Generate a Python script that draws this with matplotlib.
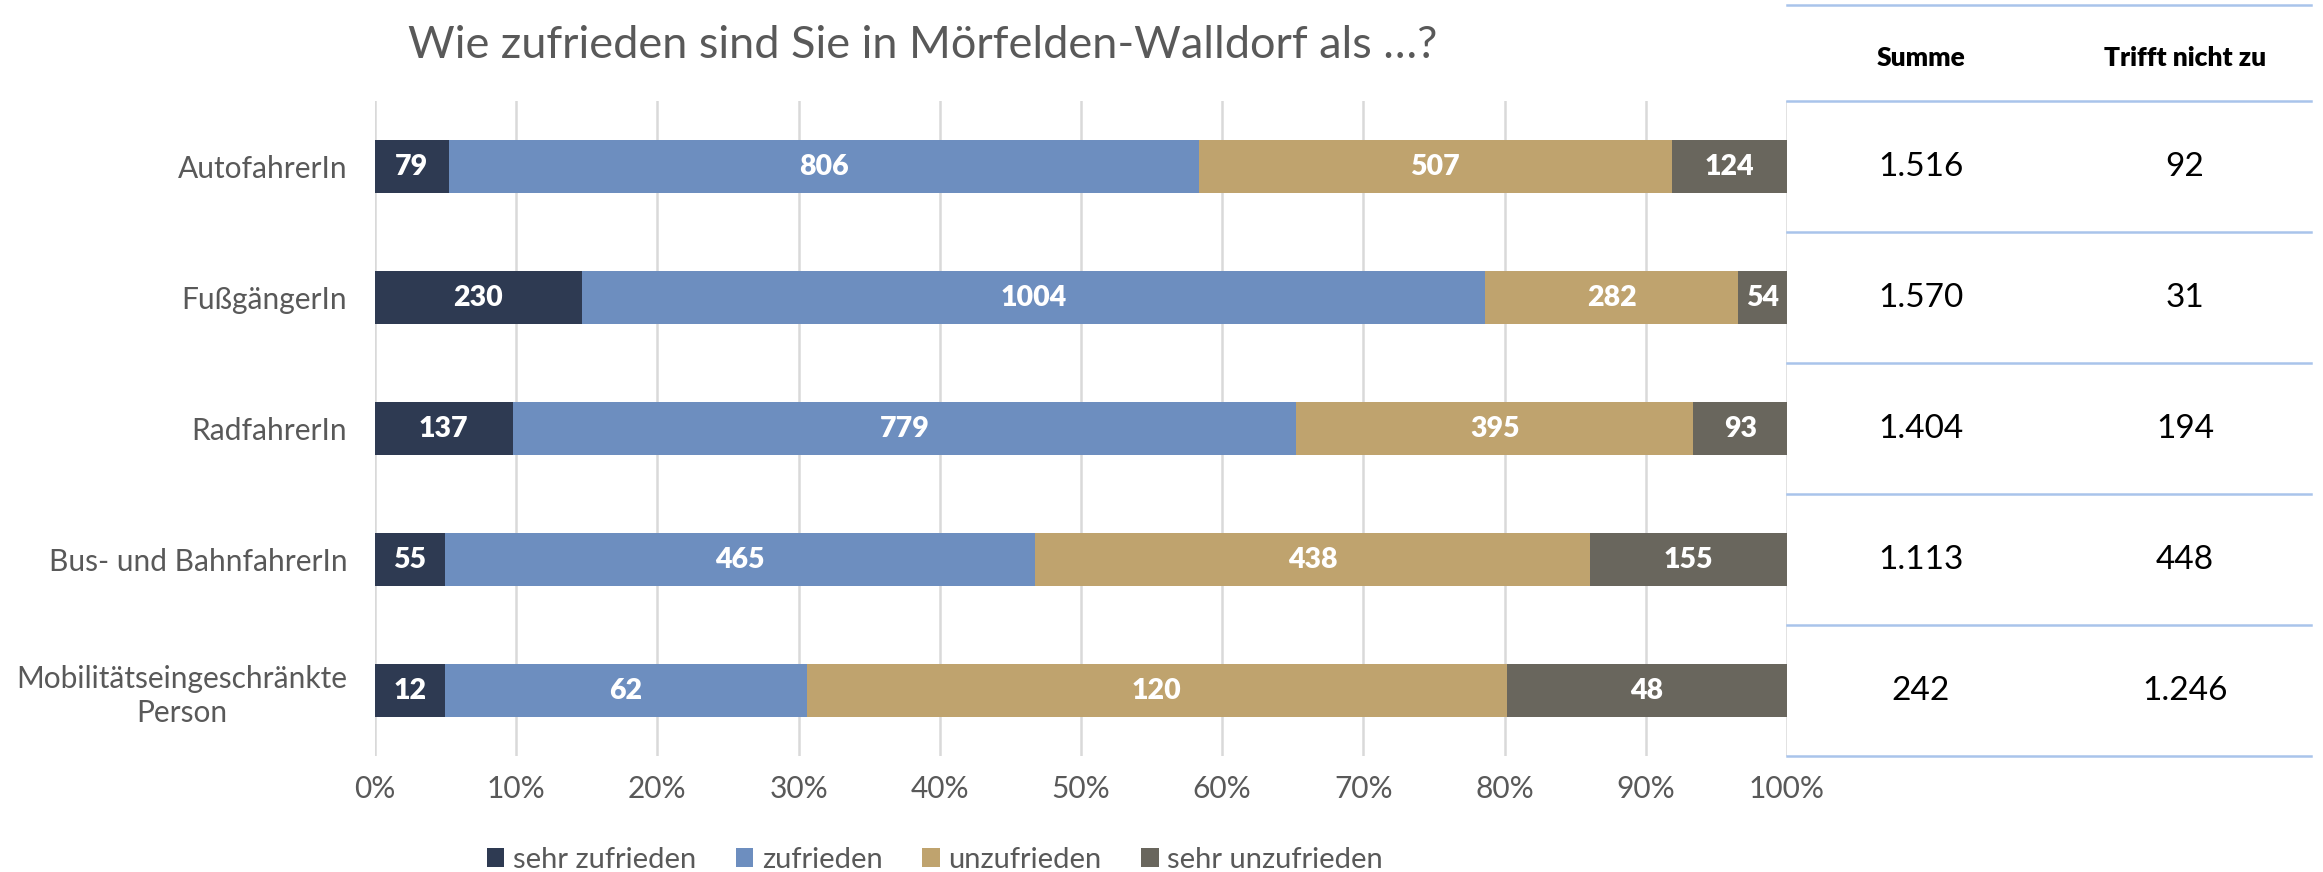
import numpy as np
import matplotlib
matplotlib.use("Agg")
import matplotlib.pyplot as plt

plt.rcParams['font.family'] = ['Lato', 'DejaVu Sans']

# ------------------- data -------------------
categories = ["AutofahrerIn", "FußgängerIn", "RadfahrerIn", "Bus- und BahnfahrerIn",
              "Mobilitätseingeschränkte\nPerson"]
series_names = ["sehr zufrieden", "zufrieden", "unzufrieden", "sehr unzufrieden"]
sehr_zufrieden = [79, 230, 137, 55, 12]
zufrieden = [806, 1004, 779, 465, 62]
unzufrieden = [507, 282, 395, 438, 120]
sehr_unzufrieden = [124, 54, 93, 155, 48]
trifft_nicht_zu = [92, 31, 194, 448, 1246]
table_header = ["Summe", "Trifft nicht zu"]
x_ticks = [0, 10, 20, 30, 40, 50, 60, 70, 80, 90, 100]

colors = ['#2E3A52', '#6D8EBF', '#BFA36E', '#69665D']
title = "Wie zufrieden sind Sie in Mörfelden-Walldorf als …?"

# ------------------- figure -------------------
fig = plt.figure(figsize=(23.23, 8.72), dpi=100)
ax = fig.add_axes([375/2323, 1-756/872, (1787-375)/2323, (756-101)/872])

values = np.array([sehr_zufrieden, zufrieden, unzufrieden, sehr_unzufrieden], dtype=float)
totals = values.sum(axis=0)
shares = values / totals * 100
y = np.arange(len(categories))
left = np.zeros(len(categories))

for k in range(len(series_names)):
  ax.barh(y, shares[k], left=left, height=0.41, color=colors[k], label=series_names[k], zorder=3)
  for i in range(len(categories)):
    ax.text(left[i] + shares[k][i]/2, y[i], f"{int(values[k][i])}", ha='center', va='center',
            color='white', fontsize=20.5, fontweight='heavy', zorder=4)
  left += shares[k]

ax.set_xlim(0, 100)
ax.set_ylim(4.5, -0.5)
ax.set_xticks(x_ticks)
ax.set_xticklabels([f"{t}%" for t in x_ticks], fontsize=21.5, color='#595959')
ax.set_yticks(y)
ax.set_yticklabels(categories, fontsize=21.5, color='#595959', linespacing=1.25)
for lab in ax.get_yticklabels():
  lab.set_multialignment('center')
ax.tick_params(axis='both', length=0, pad=14)
ax.tick_params(axis='y', pad=20)
ax.grid(axis='x', color='#D9D9D9', linewidth=1.8, zorder=0)
for s in ax.spines.values():
  s.set_visible(False)

fig.text(923/2323, 1-46/872, title, ha='center', va='center', fontsize=32.5, color='#595959')

leg = fig.legend(loc='center', bbox_to_anchor=(935/2323, 1-860/872), ncol=4, frameon=False,
                 fontsize=21, handlelength=0.6, handleheight=0.6, handletextpad=0.3,
                 columnspacing=1.35, labelcolor='#595959')

# ------------------- table -------------------
tab = fig.add_axes([1787/2323, 1-756/872, (2311-1787)/2323, (756-101)/872])
tab.set_xlim(0, 1)
tab.set_ylim(4.5, -0.5)
tab.axis('off')
line_rows = [-1.23, -0.5, 0.5, 1.5, 2.5, 3.5, 4.5]
for r in line_rows:
  tab.plot([0, 1], [r, r], color='#A9C4EB', linewidth=1.8, clip_on=False)

col_x = [(1921-1787)/524, (2185-1787)/524]
for j, h in enumerate(table_header):
  tab.text(col_x[j], -0.83, h, ha='center', va='center', fontsize=19, fontweight='heavy',
           color='black', clip_on=False)

def de_format(n):
  return f"{int(n):,}".replace(",", ".")

for i in range(len(categories)):
  tab.text(col_x[0], y[i], de_format(totals[i]), ha='center', va='center', fontsize=24, color='black')
  tab.text(col_x[1], y[i], de_format(trifft_nicht_zu[i]), ha='center', va='center', fontsize=24, color='black')

fig.savefig("out.png", dpi=100)
